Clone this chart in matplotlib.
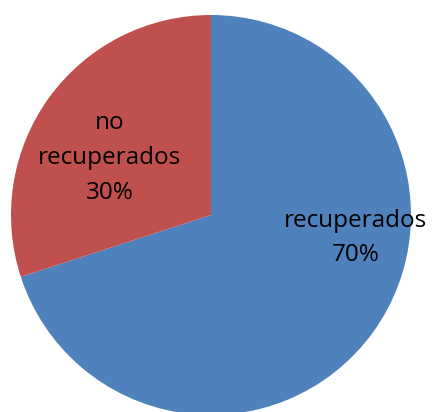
import matplotlib.pyplot as plt

# datos
categorias = ['recuperados', 'no\nrecuperados']
valores = [70, 30]
colores = ['#4F81BD', '#C0504D']

W, H = 433, 412
fig = plt.figure(figsize=(W / 100, H / 100), dpi=100)
ax = fig.add_axes([0, 0, 1, 1])

cx, cy, r = 211, H - 215, 200
ax.pie(valores, colors=colores, startangle=90, counterclock=False,
       center=(cx, cy), radius=r, frame=True,
       wedgeprops=dict(linewidth=0))
ax.set_xlim(0, W)
ax.set_ylim(0, H)
ax.set_aspect('equal')
ax.axis('off')

# etiquetas
pos = [(356, H - 238), (110, H - 158)]
for cat, val, (x, y) in zip(categorias, valores, pos):
    ax.text(x, y, f'{cat}\n{val}%', ha='center', va='center',
            fontsize=17.5, family='Open Sans', linespacing=1.6, color='black')

fig.savefig('out.png', dpi=100)
